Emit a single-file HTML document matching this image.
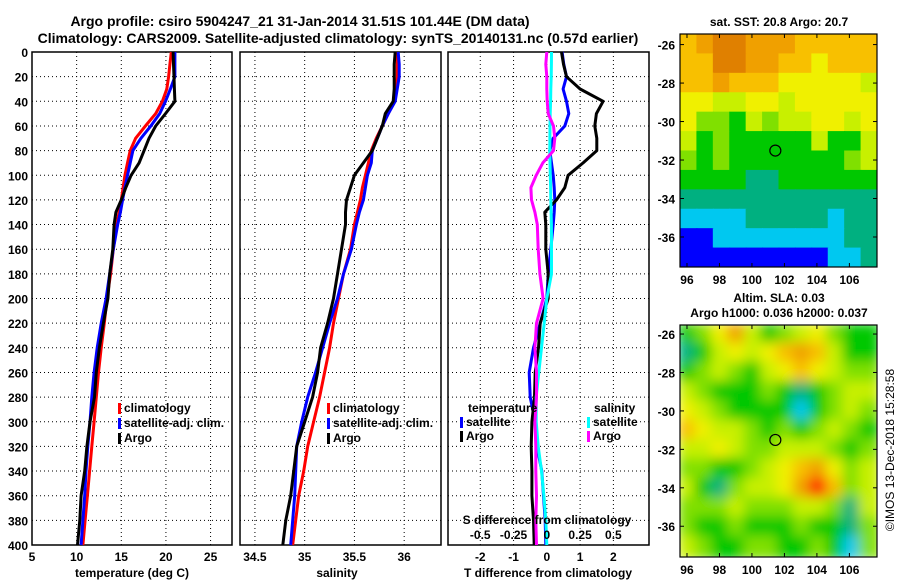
<!DOCTYPE html>
<html><head><meta charset="utf-8"><style>
body{margin:0;background:#fff;}
svg{display:block;font-family:"Liberation Sans",Arial,sans-serif;font-weight:bold;}
</style></head><body>
<svg id="c" width="900" height="580" viewBox="0 0 900 580">
<defs><filter id="bl" x="0" y="0" width="1" height="1"><feGaussianBlur stdDeviation="6"/></filter>
<clipPath id="cm1"><rect x="680" y="34" width="197" height="233"/></clipPath>
<clipPath id="cm2"><rect x="680" y="325" width="197" height="232"/></clipPath></defs>
<text x="300" y="26" font-size="14" text-anchor="middle">Argo profile: csiro 5904247_21 31-Jan-2014 31.51S 101.44E (DM data)</text>
<text x="338" y="43" font-size="14" text-anchor="middle">Climatology: CARS2009. Satellite-adjusted climatology: synTS_20140131.nc (0.57d earlier)</text>
<text x="779" y="26" font-size="12" text-anchor="middle">sat. SST: 20.8 Argo: 20.7</text>
<text x="779" y="302" font-size="12" text-anchor="middle">Altim. SLA: 0.03</text>
<text x="779" y="317" font-size="12" text-anchor="middle">Argo h1000: 0.036 h2000: 0.037</text>
<text transform="translate(894,450) rotate(-90)" font-size="12" font-weight="normal" text-anchor="middle">©IMOS 13-Dec-2018 15:28:58</text>
<g id="g"></g>
</svg>
<script>
const depths=[0,10,20,30,40,50,60,70,80,90,100,110,120,130,140,160,180,200,220,240,260,280,300,320,340,360,380,400];
const tClim=[20.6,20.45,20.3,20.1,19.6,18.85,17.7,16.6,16.0,15.7,15.4,15.2,15.0,14.75,14.5,14.1,13.8,13.4,13.1,12.75,12.45,12.2,11.95,11.7,11.45,11.2,10.95,10.7];
const tSat=[21.0,21.0,21.0,20.5,19.95,19.3,18.3,17.2,16.3,16.0,15.7,15.4,15.15,14.9,14.6,14.1,13.7,13.3,12.75,12.3,11.95,11.7,11.5,11.25,11.05,10.9,10.7,10.5];
const tArgo=[20.8,20.85,20.9,20.95,21.0,19.95,18.85,18.1,17.55,17.0,16.1,15.5,15.0,14.4,14.2,14.05,13.7,13.5,13.0,12.55,12.2,12.0,11.5,11.15,10.9,10.5,10.35,10.1];
const sClim=[35.93,35.93,35.93,35.92,35.90,35.84,35.78,35.72,35.67,35.64,35.61,35.58,35.56,35.53,35.50,35.46,35.39,35.34,35.29,35.25,35.20,35.15,35.09,35.03,34.99,34.94,34.91,34.88];
const sSat=[35.94,35.95,35.95,35.93,35.91,35.84,35.78,35.73,35.68,35.67,35.63,35.61,35.59,35.55,35.52,35.47,35.39,35.33,35.25,35.18,35.11,35.03,34.97,34.92,34.91,34.90,34.88,34.86];
const sArgo=[35.91,35.90,35.90,35.90,35.89,35.81,35.78,35.73,35.68,35.59,35.50,35.46,35.42,35.41,35.41,35.37,35.33,35.29,35.23,35.16,35.13,35.08,35.0,34.92,34.89,34.86,34.81,34.78];
const dTSat=[0.46,0.51,0.59,0.49,0.59,0.66,0.54,0.19,0.09,0.14,0.19,0.22,0.24,0.22,0.19,0.12,0.04,0.0,-0.2,-0.4,-0.53,-0.5,-0.35,-0.3,-0.15,-0.1,-0.05,-0.03];
const dTArgo=[0.44,0.5,0.59,1.0,1.69,1.49,1.44,1.5,1.5,1.09,0.64,0.54,0.29,-0.06,-0.03,-0.03,0.04,0.04,-0.2,-0.25,-0.35,-0.37,-0.45,-0.47,-0.45,-0.45,-0.4,-0.38];
const dSSat=[0.035,0.034,0.033,0.03,0.028,0.025,0.024,0.023,0.022,0.024,0.026,0.028,0.03,0.032,0.034,0.035,0.035,0.0,-0.02,-0.04,-0.06,-0.08,-0.08,-0.065,-0.04,-0.022,-0.008,0.0];
const dSArgo=[0.0,-0.008,0.0,0.0,0.003,0.01,0.05,0.06,0.05,-0.03,-0.08,-0.12,-0.115,-0.09,-0.072,-0.065,-0.052,-0.028,-0.078,-0.09,-0.078,-0.078,-0.09,-0.083,-0.083,-0.078,-0.083,-0.078];
const depthTicks=[0,20,40,60,80,100,120,140,160,180,200,220,240,260,280,300,320,340,360,380,400];
const tTicks=[5,10,15,20,25];
const sTicks=[34.5,35,35.5,36];
const dTTicks=[-2,-1,0,1,2];
const dSTicks=[-0.5,-0.25,0,0.25,0.5];
const sstLevels=[
[8,9,10,10,9,9,9,8,8,8,8,8],[8,8,10,10,9,9,8,8,7,8,8,8],[8,8,9,8,8,8,7,7,7,7,7,6],[7,7,6,6,7,7,6,7,7,7,7,7],
[7,5,5,4,6,5,6,6,7,7,6,7],[6,4,5,4,4,4,4,4,6,4,4,6],[5,4,5,4,4,4,4,4,4,4,5,6],[4,4,4,4,3,3,4,4,4,4,4,4],
[3,3,3,3,3,3,3,3,3,3,3,3],[2,2,2,2,3,3,3,3,3,2,3,3],[1,1,2,2,2,2,2,2,2,2,3,3],[1,1,1,1,1,1,1,1,1,2,2,3]];
const slaLevels=[
[4,5,7,9,6,4,5,6,7,5,4,4],[3,4,6,7,6,7,8,9,8,6,4,4],[4,5,6,5,4,6,7,8,7,6,5,5],[6,5,4,4,4,5,4,3,4,5,6,6],
[7,6,5,4,4,4,4,2,4,5,6,5],[8,7,6,6,5,4,5,4,5,6,5,4],[6,6,7,6,5,5,6,6,6,5,4,5],[5,5,4,4,5,6,7,8,9,7,5,6],
[6,4,3,5,6,6,7,9,11,8,5,6],[5,5,5,6,5,5,5,6,6,5,3,6],[5,4,4,5,4,4,4,5,4,4,3,5],[6,5,4,4,5,5,4,4,5,4,2,5]];
const palette=["#000","#0000ff","#00c8f0","#00b080","#00c800","#80e000","#c8f000","#f0f000","#f8c000","#f0a000","#e08000","#ff0000"];
const NS="http://www.w3.org/2000/svg",G=document.getElementById('g');
function el(t,a,p){const e=document.createElementNS(NS,t);for(const k in a)e.setAttribute(k,a[k]);(p||G).appendChild(e);return e;}
const Y0=52,Y1=545;const yD=d=>Y0+d/400*(Y1-Y0);
function lin(d0,d1,r0,r1){return v=>r0+(v-d0)/(d1-d0)*(r1-r0);}
function panel(x0,x1,xs,ticks,fmt,name){
 for(const t of depthTicks){const y=yD(t);if(t>0&&t<400){const l=el('line',{x1:x0,x2:x1,y1:y,y2:y,stroke:'#000','stroke-width':1,'stroke-dasharray':'1,3'});}}
 for(const t of ticks){const x=xs(t);const l=el('line',{x1:x,x2:x,y1:Y0,y2:Y1,stroke:'#000','stroke-width':1,'stroke-dasharray':'1,3'});
  const tx=el('text',{x:x,y:Y1+16,'font-size':12,'text-anchor':'middle'});tx.textContent=fmt(t);}
 const r=el('rect',{x:x0,y:Y0,width:x1-x0,height:Y1-Y0,fill:'none',stroke:'#000','stroke-width':1.5});
}
function line(vals,xs,color,name){const pts=vals.map((v,i)=>xs(v).toFixed(1)+','+yD(depths[i]).toFixed(1)).join(' ');const p=el('polyline',{points:pts,fill:'none',stroke:color,'stroke-width':3,'stroke-linejoin':'round'});}
const xT=lin(5,27.4,32,232);panel(32,232,xT,tTicks,String,'temperature-panel');
for(const t of depthTicks){const tx=el('text',{x:28,y:yD(t)+5,'font-size':12,'text-anchor':'end'});tx.textContent=t;}
line(tClim,xT,'#f00','temp-climatology-line');line(tSat,xT,'#00f','temp-satellite-line');line(tArgo,xT,'#000','temp-argo-line');
const xS=lin(34.35,36.37,240,441);panel(240,441,xS,sTicks,String,'salinity-panel');
line(sClim,xS,'#f00','sal-climatology-line');line(sSat,xS,'#00f','sal-satellite-line');line(sArgo,xS,'#000','sal-argo-line');
const xDT=lin(-2.97,3.07,448,649);const xDS=lin(-0.7425,0.7675,448,649);panel(448,649,xDT,dTTicks,String,'difference-panel');
line(dTSat,xDT,'#00f','tdiff-satellite-line');line(dTArgo,xDT,'#000','tdiff-argo-line');line(dSSat,xDS,'#00ffff','sdiff-satellite-line');line(dSArgo,xDS,'#ff00ff','sdiff-argo-line');
for(const t of dSTicks){const tx=el('text',{x:xDS(t),y:539,'font-size':12,'text-anchor':'middle'});tx.textContent=String(t);}
function txt(x,y,s,name,anchor,sz){const t=el('text',{x:x,y:y,'font-size':sz||12,'text-anchor':anchor||'start'});t.textContent=s;return t;}
txt(547,524,'S difference from climatology','sdiff-axis-title','middle');
txt(132,577,'temperature (deg C)','temperature-axis-title','middle');
txt(337,577,'salinity','salinity-axis-title','middle');
txt(548,577,'T difference from climatology','tdiff-axis-title','middle');
function leg(x,y,c,s,name){const r=el('rect',{x:x,y:y-9,width:3,height:11,fill:c});txt(x+6,y,s,name);}
leg(118,412,'#f00','climatology','temp-legend-climatology');leg(118,427,'#00f','satellite-adj. clim.','temp-legend-satellite');leg(118,442,'#000','Argo','temp-legend-argo');
leg(327,412,'#f00','climatology','sal-legend-climatology');leg(327,427,'#00f','satellite-adj. clim.','sal-legend-satellite');leg(327,442,'#000','Argo','sal-legend-argo');
txt(468,412,'temperature','tdiff-legend-heading');txt(594,412,'salinity','sdiff-legend-heading');
leg(460,426,'#00f','satellite','tdiff-legend-satellite');leg(460,440,'#000','Argo','tdiff-legend-argo');
leg(587,426,'#00ffff','satellite','sdiff-legend-satellite');leg(587,440,'#ff00ff','Argo','sdiff-legend-argo');
const lonX=lin(95.57,107.7,680,877);
function map(levels,top,bot,lat0,lat1,clip,blur,name){
 const gg=el('g',{'clip-path':'url(#'+clip+')'});const inner=el('g',blur?{filter:'url(#bl)'}:{},gg);
 const nr=levels.length,nc=levels[0].length,cw=197/nc,ch=(bot-top)/nr;
 el('rect',{x:680,y:top,width:197,height:bot-top,fill:palette[5]},inner);
 levels.forEach((row,i)=>row.forEach((v,j)=>{const r=el('rect',{x:680+j*cw-(blur?2:0),y:top+i*ch-(blur?2:0),width:cw+1+(blur?4:0),height:ch+1+(blur?4:0),fill:palette[v]},inner);}));
 const yL=lin(lat0,lat1,top,bot);
 const c=el('circle',{cx:lonX(101.44),cy:yL(-31.51),r:5.5,fill:'none',stroke:'#000','stroke-width':1.2});
 const f=el('rect',{x:680,y:top,width:197,height:bot-top,fill:'none',stroke:'#000','stroke-width':1.2});
 for(let lo=96;lo<=106;lo+=2){const x=lonX(lo);el('line',{x1:x,x2:x,y1:top,y2:top+4,stroke:'#000'});el('line',{x1:x,x2:x,y1:bot,y2:bot-4,stroke:'#000'});txt(x,bot+17,String(lo),name+'-lon-label','middle');}
 for(let la=-26;la>=-36;la-=2){const y=yL(la);el('line',{x1:680,x2:684,y1:y,y2:y,stroke:'#000'});el('line',{x1:877,x2:873,y1:y,y2:y,stroke:'#000'});txt(675,y+5,String(la),name+'-lat-label','end');}
}
map(sstLevels,34,267,-25.45,-37.56,'cm1',false,'sst-map');
map(slaLevels,325,557,-25.53,-37.6,'cm2',true,'sla-map');
</script>
</body></html>
